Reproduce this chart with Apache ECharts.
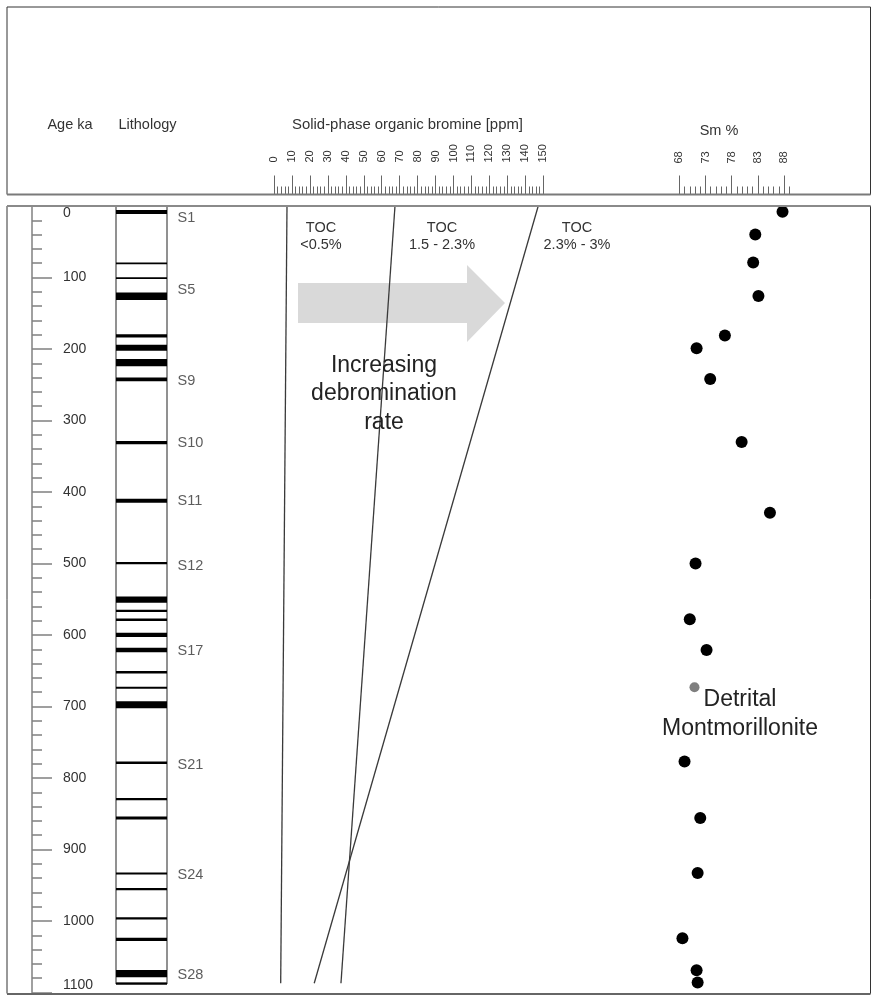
<!DOCTYPE html>
<html>
<head>
<meta charset="utf-8">
<script src="https://cdn.jsdelivr.net/npm/echarts@6/dist/echarts.min.js"></script>
<style>
html,body{margin:0;padding:0;background:#fff;}
#chart{width:874px;height:997px;}
</style>
</head>
<body>
<div id="chart"></div>
<script>
// ---- data ----
var ageTicks = [0, 100, 200, 300, 400, 500, 600, 700, 800, 900, 1000, 1100];
var bromineTicks = [0, 10, 20, 30, 40, 50, 60, 70, 80, 90, 100, 110, 120, 130, 140, 150];
var smTicks = [68, 73, 78, 83, 88];

// lithology: sapropel bands [top age, bottom age] in ka
var bandTop =    [5.6, 79, 99.5, 121, 179.5, 194, 214, 240, 328.7, 409.4, 498, 546, 564.6, 577, 597, 617.8, 650.3, 672.3, 692.8, 777, 828, 854, 932, 954, 994.8, 1023.3, 1068.5, 1086];
var bandBottom = [11.2, 81.5, 102, 131.5, 184, 202.4, 224, 245, 333.3, 415, 501, 555, 568, 580.4, 602.8, 624.2, 654, 675, 702.5, 780.4, 831, 858, 935, 957, 998, 1028, 1078.7, 1089];
var columnBottomAge = 1087;

var stageNames = ['S1', 'S5', 'S9', 'S10', 'S11', 'S12', 'S17', 'S21', 'S24', 'S28'];
var stageAges  = [17, 118, 245, 332, 412, 504, 623, 782, 936, 1076];

// TOC debromination lines: [ppm, age]
var toc1 = [[7.24, 0], [3.73, 1087]];
var toc2 = [[67.4, 0], [37.3, 1087]];
var toc3 = [[147.2, 0], [22.4, 1087]];
var tocNames = ['TOC\n<0.5%', 'TOC\n1.5 - 2.3%', 'TOC\n2.3% - 3%'];

// Sm %
var smAge = [8, 40, 79, 126, 181, 199, 242, 330, 429, 500, 578, 621, 777, 856, 933, 1024, 1069, 1086];
var smVal = [87.7, 82.5, 82.1, 83.1, 76.7, 71.3, 73.9, 79.9, 85.3, 71.1, 70.0, 73.2, 69.0, 72.0, 71.5, 68.6, 71.3, 71.5];
var detritalAge = [673];
var detritalVal = [70.9];

// ---- layout ----
var FONT = "'Liberation Sans', Arial, Helvetica, sans-serif";
var TOP = 206, H = 786.5;
var AX_TOP = 194.5;
var BR_LEFT = 274, BR_W = 269.25;
var SM_LEFT = 679.3, SM_W = 110.04;

var chart = echarts.init(document.getElementById('chart'), null, {renderer: 'canvas'});

function yAx(idx) {
  return {gridIndex: idx, type: 'value', inverse: true, min: 0, max: 1100, show: false};
}
function grid(left, width, top, height) {
  return {left: left, width: width, top: top, height: height, containLabel: false, outerBoundsMode: 'none'};
}

var bands = bandTop.map(function (t, i) { return [t, bandBottom[i]]; });
var stagesData = stageAges.map(function (a) { return [1, a]; });
var smData = smAge.map(function (a, i) { return [smVal[i], a]; });
var detData = detritalAge.map(function (a, i) { return [detritalVal[i], a]; });

var tickStyle = {color: '#666', width: 1};

var option = {
  animation: false,
  backgroundColor: '#fff',
  textStyle: {fontFamily: FONT},
  grid: [
    grid(32, 10, TOP, H),          // 0 age axis
    grid(116, 51, TOP, H),         // 1 lithology
    grid(BR_LEFT, BR_W, TOP, H),   // 2 bromine data
    grid(SM_LEFT, SM_W, TOP, H),   // 3 Sm data
    grid(BR_LEFT, BR_W, AX_TOP, 8),// 4 bromine header axis
    grid(SM_LEFT, SM_W, AX_TOP, 8),// 5 Sm header axis (major)
    grid(SM_LEFT, SM_W, AX_TOP, 8) // 6 Sm header axis (minor)
  ],
  xAxis: [
    {gridIndex: 0, type: 'value', show: false, min: 0, max: 1},
    {gridIndex: 1, type: 'value', show: false, min: 0, max: 1},
    {gridIndex: 2, type: 'value', show: false, min: bromineTicks[0], max: bromineTicks[bromineTicks.length - 1]},
    {gridIndex: 3, type: 'value', show: false, min: 68, max: 89},
    {
      gridIndex: 4, type: 'value', position: 'top',
      min: bromineTicks[0], max: bromineTicks[bromineTicks.length - 1], interval: 10,
      axisLine: {show: false},
      axisTick: {show: true, inside: false, length: 19, lineStyle: tickStyle},
      minorTick: {show: true, splitNumber: 5, length: 8, lineStyle: tickStyle},
      axisLabel: {show: true, rotate: 90, margin: 32, fontSize: 11, color: '#333', fontFamily: FONT},
      splitLine: {show: false}, minorSplitLine: {show: false}
    },
    {
      gridIndex: 5, type: 'value', position: 'top',
      min: 68, max: 89,
      axisLine: {show: false},
      axisTick: {show: true, inside: false, length: 19, customValues: smTicks, lineStyle: tickStyle},
      axisLabel: {show: true, rotate: 90, margin: 31, fontSize: 11, color: '#333', fontFamily: FONT, customValues: smTicks},
      splitLine: {show: false}
    },
    {
      gridIndex: 6, type: 'value', position: 'top',
      min: 68, max: 89, interval: 1,
      axisLine: {show: false},
      axisTick: {show: true, inside: false, length: 8, lineStyle: tickStyle},
      axisLabel: {show: false},
      splitLine: {show: false}
    }
  ],
  yAxis: [
    {
      gridIndex: 0, type: 'value', position: 'left', inverse: true,
      min: ageTicks[0], max: ageTicks[ageTicks.length - 1], interval: 100,
      axisLine: {show: true, lineStyle: {color: '#808080', width: 1.5}},
      axisTick: {show: true, inside: true, length: 20, lineStyle: {color: '#808080', width: 1.5}},
      minorTick: {show: true, splitNumber: 5, length: 10, lineStyle: {color: '#808080', width: 1.5}},
      axisLabel: {show: true, inside: true, margin: 31, fontSize: 14, color: '#333', fontFamily: FONT,
        formatter: function (v) { return String(v); },
        verticalAlignMinLabel: 'top', verticalAlignMaxLabel: 'bottom'},
      splitLine: {show: false}, minorSplitLine: {show: false}
    },
    yAx(1), yAx(2), yAx(3), yAx(4), yAx(5), yAx(6)
  ],
  series: [
    {
      type: 'custom', xAxisIndex: 1, yAxisIndex: 1, z: 3,
      data: [[0, columnBottomAge]],
      renderItem: function (params, api) {
        var p0 = api.coord([0, api.value(0)]);
        var p1 = api.coord([1, api.value(1)]);
        return {type: 'rect', shape: {x: p0[0], y: p0[1], width: p1[0] - p0[0], height: p1[1] - p0[1]},
          style: {fill: 'none', stroke: '#6e6e6e', lineWidth: 1.5}};
      }
    },
    {
      type: 'custom', xAxisIndex: 1, yAxisIndex: 1, z: 4,
      data: bands,
      renderItem: function (params, api) {
        var p0 = api.coord([0, api.value(0)]);
        var p1 = api.coord([1, api.value(1)]);
        return {type: 'rect', shape: {x: p0[0], y: p0[1], width: p1[0] - p0[0], height: Math.max(p1[1] - p0[1], 1.8)},
          style: {fill: '#000'}};
      }
    },
    {
      type: 'scatter', xAxisIndex: 1, yAxisIndex: 1,
      data: stagesData, symbolSize: 1, itemStyle: {color: 'rgba(0,0,0,0)'},
      label: {show: true, position: 'right', distance: 10, fontSize: 14.5, color: '#333', fontFamily: FONT,
        formatter: function (p) { return stageNames[p.dataIndex]; }},
      silent: true
    },
    {type: 'line', xAxisIndex: 2, yAxisIndex: 2, data: toc1, symbol: 'none', lineStyle: {color: '#3a3a3a', width: 1.3}},
    {type: 'line', xAxisIndex: 2, yAxisIndex: 2, data: toc2, symbol: 'none', lineStyle: {color: '#3a3a3a', width: 1.3}},
    {type: 'line', xAxisIndex: 2, yAxisIndex: 2, data: toc3, symbol: 'none', lineStyle: {color: '#3a3a3a', width: 1.3}},
    {type: 'scatter', xAxisIndex: 3, yAxisIndex: 3, data: smData, symbolSize: 12, itemStyle: {color: '#000', opacity: 1}},
    {type: 'scatter', xAxisIndex: 3, yAxisIndex: 3, data: detData, symbolSize: 10, itemStyle: {color: '#7f7f7f', opacity: 1}}
  ],
  graphic: [
    {type: 'rect', z: 0, shape: {x: 7, y: 7, width: 863.5, height: 187.5}, style: {fill: 'none', stroke: '#333', lineWidth: 1}},
    {type: 'line', z: 10, shape: {x1: 7, y1: 194.5, x2: 870.5, y2: 194.5}, style: {stroke: '#7a7a7a', lineWidth: 2}},
    {type: 'rect', z: 0, shape: {x: 7, y: 206, width: 863.5, height: 787.5}, style: {fill: 'none', stroke: '#333', lineWidth: 1}},
    {type: 'line', z: 10, shape: {x1: 7, y1: 206, x2: 870.5, y2: 206}, style: {stroke: '#8a8a8a', lineWidth: 2}},
    {type: 'line', z: 10, shape: {x1: 7, y1: 994, x2: 870.5, y2: 994}, style: {stroke: '#666', lineWidth: 2}},
    {type: 'polygon', z: 0, shape: {points: [[298, 283], [467, 283], [467, 265], [505, 303], [467, 342], [467, 323], [298, 323]]},
      style: {fill: '#d9d9d9'}},
    {type: 'text', z: 10, style: {text: 'Age ka', x: 70, y: 125, font: '14.5px ' + FONT, fill: '#333', textAlign: 'center', align: 'center', textVerticalAlign: 'middle', verticalAlign: 'middle'}},
    {type: 'text', z: 10, style: {text: 'Lithology', x: 147.5, y: 125, font: '14.5px ' + FONT, fill: '#333', textAlign: 'center', align: 'center', textVerticalAlign: 'middle', verticalAlign: 'middle'}},
    {type: 'text', z: 10, style: {text: 'Solid-phase organic bromine [ppm]', x: 407.5, y: 125, font: '14.9px ' + FONT, fill: '#333', textAlign: 'center', align: 'center', textVerticalAlign: 'middle', verticalAlign: 'middle'}},
    {type: 'text', z: 10, style: {text: 'Sm %', x: 719, y: 131, font: '14.5px ' + FONT, fill: '#333', textAlign: 'center', align: 'center', textVerticalAlign: 'middle', verticalAlign: 'middle'}},
    {type: 'text', z: 10, style: {text: tocNames[0], x: 321, y: 236.5, lineHeight: 17, font: '14.5px ' + FONT, fill: '#333', textAlign: 'center', align: 'center', textVerticalAlign: 'middle', verticalAlign: 'middle'}},
    {type: 'text', z: 10, style: {text: tocNames[1], x: 442, y: 236.5, lineHeight: 17, font: '14.5px ' + FONT, fill: '#333', textAlign: 'center', align: 'center', textVerticalAlign: 'middle', verticalAlign: 'middle'}},
    {type: 'text', z: 10, style: {text: tocNames[2], x: 577, y: 236.5, lineHeight: 17, font: '14.5px ' + FONT, fill: '#333', textAlign: 'center', align: 'center', textVerticalAlign: 'middle', verticalAlign: 'middle'}},
    {type: 'text', z: 10, style: {text: 'Increasing\ndebromination\nrate', x: 384, y: 394, lineHeight: 28.5, font: '23px ' + FONT, fill: '#222', textAlign: 'center', align: 'center', textVerticalAlign: 'middle', verticalAlign: 'middle'}},
    {type: 'text', z: 10, style: {text: 'Detrital\nMontmorillonite', x: 740, y: 714.5, lineHeight: 29, font: '23px ' + FONT, fill: '#222', textAlign: 'center', align: 'center', textVerticalAlign: 'middle', verticalAlign: 'middle'}}
  ]
};
chart.setOption(option);
</script>
</body>
</html>
